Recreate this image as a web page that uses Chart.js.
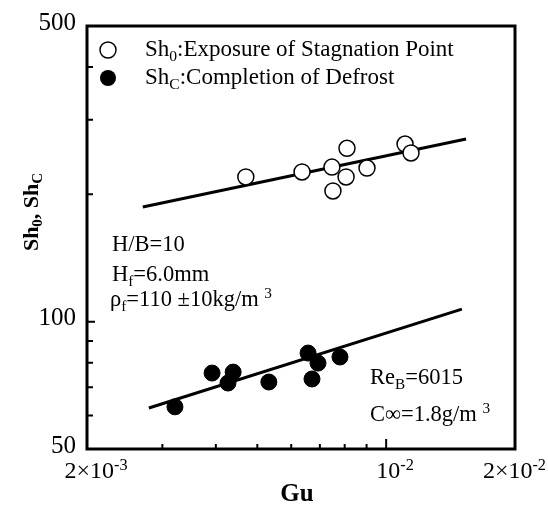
<!DOCTYPE html>
<html>
<head>
<meta charset="utf-8">
<script src="https://cdn.jsdelivr.net/npm/chart.js@4"></script>
<style>
  html, body { margin: 0; padding: 0; background: #fff; }
  #wrap { width: 548px; height: 515px; }
</style>
</head>
<body>
<div id="wrap"><canvas id="shChart" width="548" height="515"></canvas></div>
<script>
// Sh0: exposure of stagnation point (open circles)
const gu0 = [0.0047, 0.00636, 0.00747, 0.0081, 0.00806, 0.00751, 0.00902, 0.01107, 0.01143];
const sh0 = [219.8, 225.9, 232, 257, 219.8, 203.7, 230.8, 263, 250.5];
// ShC: completion of defrost (filled circles)
const guC = [0.00321, 0.00392, 0.00439, 0.00427, 0.00532, 0.00657, 0.00693, 0.00671, 0.0078];
const shC = [62.9, 75.6, 76, 71.6, 72, 84.3, 79.8, 73.2, 82.5];
// fitted lines (end points)
const fit0Gu = [0.0027, 0.01537];
const fit0Sh = [186.6, 270.3];
const fitCGu = [0.00279, 0.01503];
const fitCSh = [62.5, 107.1];

const xTicks = [0.002, 0.003, 0.004, 0.005, 0.006, 0.007, 0.008, 0.009, 0.01, 0.02];
const yTicks = [50, 60, 70, 80, 90, 100, 200, 300, 400, 500];
const xTickLabels = [[0.002, "2\u00d710", "-3"], [0.01, "10", "-2"], [0.02, "2\u00d710", "-2"]];
const yTickLabels = [50, 100, 500];

const SERIF = '"Liberation Serif", "DejaVu Serif", serif';

function pts(xs, ys) {
  return xs.map((x, i) => ({ x: x, y: ys[i] }));
}

// draws text pieces with optional sub/superscripts, left aligned at x, middle at y
function richText(ctx, x, y, parts, size, bold) {
  ctx.textBaseline = "middle";
  ctx.textAlign = "left";
  let cx = x;
  parts.forEach((p) => {
    const s = p.sub || p.sup ? size * 0.68 : size;
    ctx.font = (bold ? "bold " : "") + s + "px " + SERIF;
    const dy = p.sub ? size * 0.3 : p.sup ? -size * 0.28 : 0;
    ctx.fillText(p.t, cx, y + dy);
    cx += ctx.measureText(p.t).width;
  });
  return cx - x;
}

function richWidth(ctx, parts, size, bold) {
  let w = 0;
  parts.forEach((p) => {
    const s = p.sub || p.sup ? size * 0.68 : size;
    ctx.font = (bold ? "bold " : "") + s + "px " + SERIF;
    w += ctx.measureText(p.t).width;
  });
  return w;
}

const decor = {
  id: "decor",
  afterDraw: (chart) => {
    const { ctx, chartArea: a } = chart;
    const xs = chart.scales.x;
    const ys = chart.scales.y;
    ctx.save();
    ctx.fillStyle = "#000";
    ctx.strokeStyle = "#000";

    // inward tick marks
    ctx.lineWidth = 2;
    ctx.beginPath();
    xTicks.forEach((v) => {
      const px = xs.getPixelForValue(v);
      const len = v === 0.01 ? 10 : 5;
      ctx.moveTo(px, a.bottom);
      ctx.lineTo(px, a.bottom - len);
    });
    yTicks.forEach((v) => {
      const py = ys.getPixelForValue(v);
      const len = v === 100 ? 8 : 6;
      ctx.moveTo(a.left, py);
      ctx.lineTo(a.left + len, py);
    });
    ctx.stroke();

    // frame
    ctx.lineWidth = 3;
    ctx.strokeRect(a.left, a.top, a.right - a.left, a.bottom - a.top);

    // y tick labels
    ctx.font = "25px " + SERIF;
    ctx.textAlign = "right";
    ctx.textBaseline = "middle";
    yTickLabels.forEach((v) => {
      ctx.fillText(String(v), a.left - 11, ys.getPixelForValue(v) - 3);
    });

    // x tick labels
    xTickLabels.forEach(([v, base, exp]) => {
      const parts = [{ t: base }, { t: exp, sup: true }];
      const w = richWidth(ctx, parts, 24, false);
      const px = xs.getPixelForValue(v);
      const start = Math.min(px - w / 2 + 9, chart.width - 2 - w);
      richText(ctx, start, a.bottom + 23, parts, 24, false);
    });

    // axis titles
    ctx.font = "bold 25px " + SERIF;
    ctx.textAlign = "center";
    ctx.textBaseline = "middle";
    ctx.fillText("Gu", (a.left + a.right) / 2 - 4, 495);

    ctx.save();
    ctx.translate(32, 212);
    ctx.rotate(-Math.PI / 2);
    const yTitle = [{ t: "Sh" }, { t: "0", sub: true }, { t: ", Sh" }, { t: "C", sub: true }];
    const tw = richWidth(ctx, yTitle, 22, true);
    richText(ctx, -tw / 2, 0, yTitle, 22, true);
    ctx.restore();

    // legend
    const lx = 108;
    ctx.lineWidth = 1.5;
    ctx.beginPath();
    ctx.arc(lx, 50, 8, 0, Math.PI * 2);
    ctx.stroke();
    ctx.beginPath();
    ctx.arc(lx, 78, 8, 0, Math.PI * 2);
    ctx.fill();
    richText(ctx, 145, 50, [{ t: "Sh" }, { t: "0", sub: true }, { t: ":Exposure of Stagnation Point" }], 23, false);
    richText(ctx, 145, 78, [{ t: "Sh" }, { t: "C", sub: true }, { t: ":Completion of Defrost" }], 23, false);

    // conditions
    richText(ctx, 112, 245, [{ t: "H/B=10" }], 22.5, false);
    richText(ctx, 112, 275, [{ t: "H" }, { t: "f", sub: true }, { t: "=6.0mm" }], 22.5, false);
    richText(ctx, 110, 300, [{ t: "\u03c1" }, { t: "f", sub: true }, { t: "=110 \u00b110kg/m " }, { t: "3", sup: true }], 22.5, false);
    richText(ctx, 370, 378, [{ t: "Re" }, { t: "B", sub: true }, { t: "=6015" }], 22.5, false);
    richText(ctx, 370, 415, [{ t: "C\u221e=1.8g/m " }, { t: "3", sup: true }], 22.5, false);

    ctx.restore();
  },
};

const chart = new Chart(document.getElementById("shChart").getContext("2d"), {
  type: "scatter",
  data: {
    datasets: [
      {
        label: "Sh0",
        data: pts(gu0, sh0),
        pointRadius: 8,
        pointBackgroundColor: "#fff",
        pointBorderColor: "#000",
        pointBorderWidth: 1.5,
        order: 1,
      },
      {
        label: "ShC",
        data: pts(guC, shC),
        pointRadius: 8,
        pointBackgroundColor: "#000",
        pointBorderColor: "#000",
        pointBorderWidth: 1,
        order: 1,
      },
      {
        label: "fit0",
        data: pts(fit0Gu, fit0Sh),
        showLine: true,
        pointRadius: 0,
        borderColor: "#000",
        borderWidth: 3,
        order: 2,
      },
      {
        label: "fitC",
        data: pts(fitCGu, fitCSh),
        showLine: true,
        pointRadius: 0,
        borderColor: "#000",
        borderWidth: 3,
        order: 2,
      },
    ],
  },
  options: {
    responsive: false,
    animation: false,
    layout: { padding: { left: 0, top: 26, right: 33, bottom: 0 } },
    plugins: {
      legend: { display: false },
      tooltip: { enabled: false },
    },
    scales: {
      x: {
        type: "logarithmic",
        min: 0.002,
        max: 0.02,
        afterBuildTicks: (s) => { s.ticks = xTicks.map((v) => ({ value: v })); },
        afterFit: (s) => { s.height = 66; },
        ticks: { display: false },
        grid: { display: false },
        border: { display: false },
      },
      y: {
        type: "logarithmic",
        min: 50,
        max: 500,
        afterBuildTicks: (s) => { s.ticks = yTicks.map((v) => ({ value: v })); },
        afterFit: (s) => { s.width = 87; },
        ticks: { display: false },
        grid: { display: false },
        border: { display: false },
      },
    },
  },
  plugins: [decor],
});
</script>
</body>
</html>
